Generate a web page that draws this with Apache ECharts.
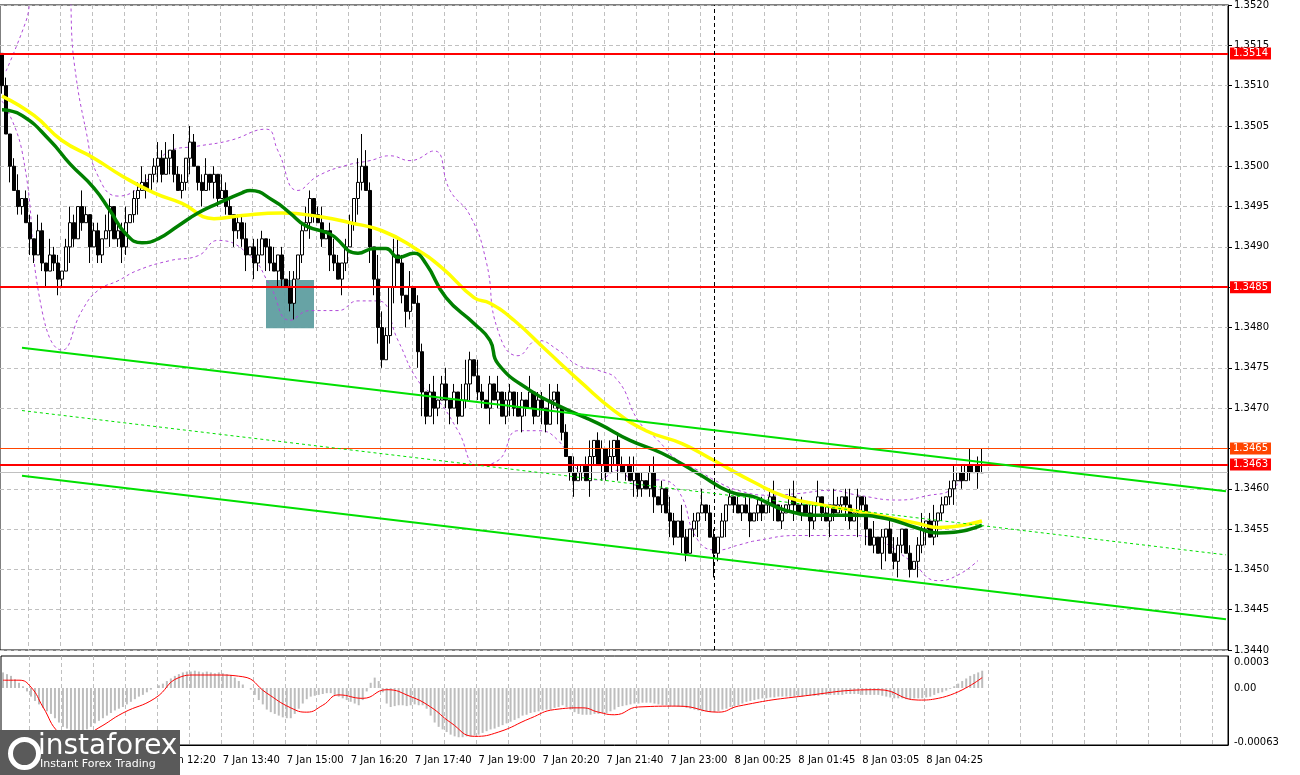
<!DOCTYPE html>
<html><head><meta charset="utf-8">
<script src="https://cdn.jsdelivr.net/npm/echarts@6/dist/echarts.min.js"></script>
<style>html,body{margin:0;padding:0;background:#fff}#c{width:1300px;height:775px}</style>
</head><body><div id="c"></div>
<script>
// closes in pips above 1.3400
const closePips = [110,104,100,97,95,96,93,91,89,92, 88,87,89,88,86,87,90,93,91,95, 93,94,90,92,89,91,92,95,91,92,
 90,93,94,96,97,98,97,99,100,101, 99,101,102,99,97,98,101,103,100,98, 97,99,98,99,96,97,95,94,92,93,
 91,89,90,88,89,91,90,88,87,89, 86,85,83,86,89,92,93,96,94,93, 91,92,89,88,86,88,90,93,96,98,
 100,97,90,86,80,76,79,85,89,88, 84,82,85,83,77,72,69,72,70,71, 73,71,70,72,69,71,73,76,74,72,
 71,70,73,71,72,69,71,72,70,69, 71,70,72,69,71,70,68,71,72,70, 67,64,62,61,62,63,61,64,66,63,
 65,62,64,66,63,62,63,61,62,60, 61,60,62,59,58,60,57,56,54,56, 54,52,55,56,57,58,57,54,52,54,
 56,58,59,58,57,58,57,56,57,58, 57,58,59,58,56,57,58,59,58,57, 58,57,56,58,59,57,56,58,57,58,
 59,58,56,57,59,58,55,53,54,52, 54,55,52,51,53,55,52,50,51,53, 55,56,54,56,57,58,59,60,61,62,
 61,63,62,63,62,62];
const firstOpenPips = 114;
const highExt = "0101201102 1021101210 2101102101 1201121012 1202110210 1201021101 1201210120 1021012101 2012101103 4210321022 1020110120 1201023102 1010201102 1020110201 0102101201 1020110120 1012010210 2101020110 1010101201 1012010120 1010201021 0120101020 1012100101 2012010120 1020130102 110120";
const lowExt  = "1020110210 1201210210 1020110201 2101201012 1021011201 2012101021 1202103102 1012010210 1021021012 1022210120 1210231021 0120101201 1020101210 2101021012 1012010210 2101201021 1012010210 2101201031 0201010201 1012010120 1021010210 1210312010 2301210102 1201210120 1010201021 011010";
const yellowMA = [[0,108.7],[8,106.3],[15,103.2],[23,101.0],[30,98.8],[38,96.7],[45,95.4],[53,93.5],[60,93.9],[70,94.2],[80,93.7],[87,93.0],[95,92.0],[103,89.9],[110,87.4],[118,83.7],[122,83.0],[128,80.9],[136,77.2],[145,73.1],[153,69.7],[161,67.2],[170,65.6],[178,63.5],[188,60.8],[196,59.0],[205,58.0],[213,57.3],[221,56.5],[229,55.7],[234,55.2],[245,56.0]];
const greenMA = [[0,107.0],[5,106.3],[12,103.2],[17,100.3],[23,97.3],[27,94.5],[31,91.6],[35,90.5],[39,91.0],[44,92.6],[49,94.2],[54,95.4],[60,96.7],[62,97.0],[68,95.7],[72,94.2],[76,92.6],[82,91.6],[89,89.2],[93,89.8],[96,89.8],[99,88.7],[103,89.2],[106,87.9],[111,83.7],[118,80.5],[122,78.4],[124,75.5],[132,72.2],[140,70.1],[149,68.1],[157,66.0],[165,64.4],[174,61.9],[182,59.6],[188,59.0],[196,57.3],[205,56.7],[213,56.7],[221,56.3],[229,55.1],[234,54.5],[238,54.6],[245,55.5]];
const bandUpper = [[1,111.8],[6,118],[9,123],[16,123],[18,113],[21,104.4],[24,98.8],[29,96.3],[36,98.2],[42,101.9],[49,102.5],[57,103.2],[66,104.6],[69,101.9],[74,97.0],[79,98.8],[86,100.1],[92,100.7],[97,101.3],[102,100.7],[108,101.9],[112,97.0],[117,93.9],[121,88.3],[124,79.6],[129,76.5],[134,78.4],[139,77.2],[144,75.3],[149,74.7],[154,73.4],[159,68.5],[164,66.0],[169,63.5],[174,62.3],[178,61.1],[184,59.8],[192,59.2],[199,59.4],[207,59.8],[214,59.2],[224,58.6],[232,59.2],[237,59.8],[243,63.5]];
const bandLower = [[0,108.1],[5,101.9],[10,82.1],[15,77.2],[20,82.1],[24,84.6],[29,85.8],[34,87.1],[42,88.3],[49,88.9],[54,90.8],[62,88.9],[67,85.2],[72,80.9],[77,82.1],[84,82.1],[89,83.3],[94,83.3],[99,78.4],[104,73.4],[109,71.0],[114,67.2],[119,62.9],[124,63.5],[129,67.2],[134,67.2],[139,66.0],[144,62.3],[149,61.1],[154,62.3],[159,60.4],[164,61.1],[169,59.8],[174,53.6],[179,52.4],[184,53.0],[189,53.6],[199,54.2],[212,54.2],[219,53.6],[227,51.1],[234,48.6],[239,49.3],[244,51.1]];
// MACD histogram and signal, units of 0.00001
const macdHist = [18,16,14,10,6,2,-4,-10,-15,-19, -23,-27,-30,-35,-40,-45,-47,-49,-50,-51, -50,-48,-45,-41,-38,-35,-32,-29,-26,-24,
 -22,-19,-16,-13,-10,-8,-5,-2,0,3, 5,8,11,14,16,18,19,19,20,19, 18,19,18,17,18,17,16,15,12,8,
 4,0,-2,-8,-14,-19,-25,-28,-30,-32, -34,-35,-35,-30,-24,-18,-13,-10,-9,-8, -7,-6,-6,-8,-10,-12,-14,-16,-18,-20,
 -14,-4,6,12,8,-5,-18,-22,-21,-20, -20,-21,-20,-19,-20,-20,-24,-32,-40,-45, -48,-51,-54,-56,-57,-57,-56,-56,-55,-54,
 -52,-50,-48,-47,-45,-43,-41,-39,-37,-35, -32,-31,-29,-28,-27,-26,-25,-25,-23,-22, -20,-22,-25,-28,-30,-31,-31,-31,-30,-30,
 -29,-29,-27,-25,-22,-21,-20,-19,-18,-18, -17,-17,-17,-18,-19,-20,-20,-21,-21,-22, -22,-23,-24,-25,-26,-27,-27,-28,-28,-27,
 -25,-24,-22,-21,-20,-18,-16,-15,-14,-13, -12,-12,-11,-11,-10,-10,-10,-10,-10,-10, -10,-9,-9,-9,-9,-8,-8,-8,-8,-8,
 -8,-7,-7,-7,-7,-8,-8,-8,-8,-8, -9,-10,-11,-12,-12,-12,-13,-13,-12,-12, -12,-11,-10,-8,-6,-5,-3,-1,2,5,
 8,11,14,16,18,20];
const macdSignal = [[0,9],[4,9],[7,1],[10,-22],[14,-52],[18,-60],[24,-46],[30,-29],[38,-12],[44,12],[48,15],[53,15],[60,13],[66,-6],[72,-23],[76,-28],[80,-20],[84,-8],[90,-12],[96,-2],[102,-10],[107,-22],[112,-40],[118,-56],[124,-51],[132,-35],[138,-25],[145,-23],[149,-28],[153,-31],[159,-22],[169,-21],[179,-28],[184,-21],[199,-10],[219,-2],[229,-14],[234,-12],[245,12]];
const macdLabels = [['0.0003',0.0003],['0.00',0],['-0.00063',-0.00063]];
const levelsRed = [1.3514, 1.3485, 1.3463];
const levelOrange = 1.3465;
const levelBid = 1.3462;
const trendUpper = [[5,1.34775],[306,1.34597]];
const trendLower = [[5,1.34616],[306,1.34438]];
const trendMid = [[5,1.34697],[306,1.34518]];
const boxZone = {from:66, to:78, hi:1.34859, lo:1.34799};
const markerIndex = 178;
const slotCount = 307;
const tickLabels = {7:"7 Jan 09:40",23:"7 Jan 11:00",39:"7 Jan 12:20",55:"7 Jan 13:40",71:"7 Jan 15:00",87:"7 Jan 16:20",103:"7 Jan 17:40",119:"7 Jan 19:00",135:"7 Jan 20:20",151:"7 Jan 21:40",167:"7 Jan 23:00",183:"8 Jan 00:25",199:"8 Jan 01:45",215:"8 Jan 03:05",231:"8 Jan 04:25"};

const P = v => +(1.34 + v/10000).toFixed(5);
const cats = []; for (let i=0;i<slotCount;i++) cats.push(String(i));
const hx = highExt.replace(/ /g,''), lx = lowExt.replace(/ /g,'');
const ohlc = closePips.map((c,i)=>{
  const o = i===0?firstOpenPips:closePips[i-1];
  const h = Math.max(o,c)+ +hx[i], l = Math.min(o,c)- +lx[i];
  return [P(o),P(c),P(l),P(h)];
});
const conv = a => a.map(d=>[d[0],P(d[1])]);
const font = 'DejaVu Sans';
const chart = echarts.init(document.getElementById('c'));
const redLbl = {show:true, position:'end', distance:2, color:'#fff', backgroundColor:'#ff0000', padding:[1,3], fontSize:10, fontFamily:font, formatter:p=>(+p.value).toFixed(4)};
const grayGrid = {color:'#c0c0c0',type:[4,3]};
chart.setOption({
  animation:false, backgroundColor:'#fff',
  grid:[{left:0,right:72,top:4,height:646,show:true,borderColor:'#000',borderWidth:1},
        {left:0,right:72,top:656,height:89,show:true,borderColor:'#000',borderWidth:1}],
  xAxis:[{type:'category',data:cats,gridIndex:0,boundaryGap:true,axisLine:{show:false},axisTick:{show:false},axisLabel:{show:false},
          splitLine:{show:true,interval:(i)=>i%8===7,lineStyle:grayGrid}},
         {type:'category',data:cats,gridIndex:1,boundaryGap:true,axisLine:{onZero:false,lineStyle:{color:'#000'}},axisTick:{show:false},
          axisLabel:{show:true,interval:0,align:'left',margin:10,fontSize:10,fontFamily:font,color:'#000',formatter:(v,i)=>tickLabels[i]||''},
          splitLine:{show:true,interval:(i)=>i%8===7,lineStyle:grayGrid}}],
  yAxis:[{type:'value',gridIndex:0,position:'right',min:1.3440,max:1.3520,interval:0.0005,
          axisLine:{show:true,lineStyle:{color:'#000'}},axisTick:{show:true,length:4,lineStyle:{color:'#000'}},
          axisLabel:{fontSize:10,fontFamily:font,color:'#000',margin:6,formatter:v=>v.toFixed(4)},
          splitLine:{lineStyle:grayGrid}},
         {type:'value',gridIndex:1,position:'right',min:-0.00066,max:0.00037,axisLine:{show:true,lineStyle:{color:'#000'}},
          axisLabel:{show:false},axisTick:{show:false},splitLine:{show:false}}],
  series:[
    {type:'candlestick',xAxisIndex:0,yAxisIndex:0,data:ohlc,barWidth:3,
     itemStyle:{color:'#fff',color0:'#000',borderColor:'#000',borderColor0:'#000',borderWidth:1},
     markArea:{silent:true,itemStyle:{color:'#5f9ea0',opacity:0.95},data:[[{xAxis:boxZone.from,yAxis:boxZone.hi},{xAxis:boxZone.to,yAxis:boxZone.lo}]]}},
    {type:'line',data:conv(bandUpper),smooth:true,symbol:'none',lineStyle:{color:'#b04ad8',width:1,type:[3,3]},z:1},
    {type:'line',data:conv(bandLower),smooth:true,symbol:'none',lineStyle:{color:'#b04ad8',width:1,type:[3,3]},z:1},
    {type:'line',data:conv(yellowMA),smooth:true,symbol:'none',lineStyle:{color:'#ffff00',width:3.5},z:3},
    {type:'line',data:conv(greenMA),smooth:true,symbol:'none',lineStyle:{color:'#008000',width:3.5},z:4},
    {type:'line',data:trendUpper,symbol:'none',lineStyle:{color:'#00e000',width:2},z:5,
     markLine:{silent:true,symbol:'none',animation:false,precision:5,data:[
       {yAxis:levelBid,lineStyle:{color:'#c0c0c0',width:1,type:'solid'},label:{show:false}},
       {yAxis:levelOrange,lineStyle:{color:'#ff4500',width:1,type:'solid'},label:{...redLbl,backgroundColor:'#ff4500'}},
       ...levelsRed.map(v=>({yAxis:v,lineStyle:{color:'#ff0000',width:2,type:'solid'},label:redLbl})),
       {xAxis:markerIndex,lineStyle:{color:'#000',width:1,type:[4,3]},label:{show:false}}
     ]}},
    {type:'line',data:trendLower,symbol:'none',lineStyle:{color:'#00e000',width:2},z:5},
    {type:'line',data:trendMid,symbol:'none',lineStyle:{color:'#00e000',width:1,type:[3,3]},z:5},
    {type:'bar',xAxisIndex:1,yAxisIndex:1,data:macdHist.map(v=>v/100000),barWidth:2,itemStyle:{color:'#bdbdbd'}},
    {type:'line',xAxisIndex:1,yAxisIndex:1,data:macdSignal.map(d=>[d[0],d[1]/100000]),smooth:true,symbol:'none',lineStyle:{color:'#ff0000',width:1},
     markLine:{silent:true,symbol:'none',precision:6,lineStyle:{color:'#fff',width:0.01,type:'solid'},
       label:{show:true,position:'end',distance:6,color:'#000',fontSize:10,fontFamily:font,formatter:p=>p.name},
       data:macdLabels.map(d=>({yAxis:d[1],name:d[0]}))}}
  ],
  graphic:[
    {type:'rect',left:0,top:730,shape:{width:180,height:45},style:{fill:'#5a5a5a'},z:100},
    {type:'text',left:38,top:733,style:{text:'instaforex',fill:'#fff',font:'28px "DejaVu Sans"'},z:101},
    {type:'text',left:40,top:759,style:{text:'Instant Forex Trading',fill:'#fff',font:'11px "DejaVu Sans"'},z:101},
    {type:'circle',left:8,top:737,shape:{r:14},style:{fill:'none',stroke:'#fff',lineWidth:5},z:101}
  ]
});
</script></body></html>
